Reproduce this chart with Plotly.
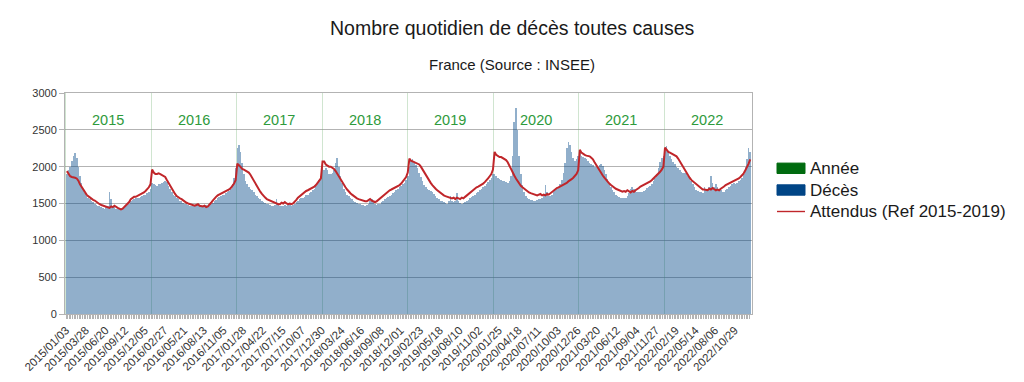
import pandas as pd
import plotly.graph_objects as go

# ---------------- data (weekly values) ----------------
start_date = "2015-01-03"
years = ["2015", "2016", "2017", "2018", "2019", "2020", "2021", "2022"]

deces_2015 = [1900, 1950, 2000, 2080, 2150, 2180, 2120, 2000, 1880, 1780, 1700, 1640, 1600,
              1580, 1560, 1540, 1520, 1500, 1480, 1470, 1460, 1450, 1440, 1430, 1450, 1470,
              1650, 1560, 1470, 1450, 1430, 1430, 1420, 1430, 1440, 1440, 1460, 1480, 1500,
              1530, 1550, 1560, 1570, 1580, 1580, 1590, 1600, 1610, 1620, 1640, 1650, 1700]
deces_2016 = [1780, 1760, 1750, 1740, 1760, 1770, 1780, 1790, 1800, 1790, 1740, 1700, 1660,
              1620, 1600, 1580, 1560, 1540, 1530, 1510, 1500, 1490, 1480, 1470, 1460, 1460,
              1460, 1470, 1500, 1470, 1450, 1450, 1470, 1480, 1460, 1470, 1490, 1510, 1530,
              1550, 1570, 1590, 1600, 1610, 1620, 1640, 1650, 1670, 1700, 1760, 1850, 1980, 2250]
deces_2017 = [2300, 2200, 2050, 1900, 1800, 1760, 1720, 1700, 1680, 1650, 1620, 1600, 1580,
              1560, 1540, 1520, 1510, 1500, 1490, 1480, 1470, 1470, 1480, 1560, 1490, 1470,
              1460, 1470, 1480, 1470, 1480, 1490, 1470, 1480, 1500, 1520, 1540, 1560, 1570,
              1580, 1590, 1610, 1620, 1640, 1660, 1680, 1700, 1740, 1780, 1820, 1880, 2000]
deces_2018 = [1950, 1980, 1960, 1900, 1900, 1920, 1960, 2050, 2120, 2000, 1880, 1780, 1700,
              1660, 1620, 1600, 1580, 1560, 1540, 1520, 1510, 1500, 1490, 1480, 1480, 1470,
              1480, 1490, 1530, 1560, 1520, 1490, 1480, 1490, 1500, 1520, 1540, 1560, 1580,
              1590, 1600, 1620, 1640, 1660, 1680, 1700, 1720, 1740, 1760, 1780, 1820, 1880]
deces_2019 = [2000, 2080, 2100, 2050, 2020, 1980, 1920, 1860, 1800, 1750, 1720, 1700, 1680,
              1670, 1650, 1630, 1600, 1580, 1560, 1540, 1530, 1520, 1510, 1500, 1530, 1600,
              1540, 1520, 1530, 1640, 1530, 1510, 1500, 1510, 1520, 1530, 1550, 1570, 1590,
              1600, 1620, 1640, 1660, 1680, 1700, 1720, 1740, 1760, 1790, 1820, 1850, 1900]
deces_2020 = [1900, 1880, 1850, 1830, 1820, 1810, 1800, 1790, 1780, 1800, 1880, 2150, 2600,
              2800, 2500, 2150, 1900, 1750, 1650, 1600, 1570, 1560, 1550, 1550, 1540, 1540,
              1550, 1560, 1560, 1580, 1620, 1750, 1650, 1600, 1600, 1620, 1650, 1680, 1700,
              1720, 1760, 1820, 1920, 2050, 2250, 2330, 2300, 2200, 2120, 2080, 2100, 2150]
deces_2021 = [2200, 2150, 2130, 2120, 2100, 2080, 2050, 2030, 2020, 2000, 1990, 2000, 2020,
              2030, 2010, 1960, 1900, 1830, 1770, 1720, 1680, 1650, 1620, 1600, 1590, 1580,
              1580, 1570, 1580, 1600, 1640, 1700, 1720, 1700, 1680, 1660, 1650, 1650, 1660,
              1670, 1690, 1710, 1720, 1740, 1760, 1800, 1850, 1900, 1980, 2060, 2120, 2150]
deces_2022 = [2250, 2280, 2200, 2150, 2100, 2060, 2030, 2000, 1980, 1950, 1930, 1920, 1920,
              1900, 1880, 1850, 1800, 1760, 1720, 1690, 1670, 1660, 1650, 1640, 1720, 1680,
              1680, 1720, 1880, 1780, 1720, 1760, 1720, 1690, 1680, 1660, 1660, 1680, 1700,
              1720, 1740, 1760, 1780, 1760, 1780, 1800, 1820, 1850, 1900, 2000, 2100, 2250, 2200]

attendus_2015 = [1940, 1900, 1870, 1860, 1860, 1850, 1840, 1810, 1760, 1720, 1680, 1650, 1620,
                 1600, 1580, 1560, 1550, 1540, 1520, 1500, 1490, 1480, 1470, 1460, 1450, 1440,
                 1440, 1460, 1450, 1470, 1450, 1440, 1430, 1420, 1430, 1450, 1480, 1500, 1520,
                 1560, 1580, 1590, 1590, 1600, 1610, 1620, 1630, 1650, 1670, 1690, 1720, 1760]
attendus_2016 = [1960, 1920, 1900, 1900, 1910, 1900, 1890, 1880, 1860, 1820, 1780, 1730, 1690,
                 1660, 1630, 1600, 1580, 1570, 1560, 1540, 1520, 1510, 1500, 1490, 1480, 1480,
                 1470, 1480, 1490, 1470, 1460, 1460, 1470, 1450, 1460, 1480, 1510, 1540, 1570,
                 1590, 1610, 1620, 1630, 1640, 1650, 1660, 1670, 1690, 1710, 1740, 1770, 1820, 2040]
attendus_2017 = [2020, 1990, 1970, 1960, 1950, 1940, 1920, 1890, 1850, 1800, 1760, 1720, 1690,
                 1660, 1630, 1600, 1580, 1560, 1550, 1530, 1520, 1510, 1500, 1500, 1490, 1490,
                 1510, 1500, 1520, 1500, 1490, 1500, 1490, 1500, 1520, 1550, 1580, 1600, 1620,
                 1640, 1660, 1670, 1680, 1690, 1700, 1710, 1730, 1750, 1780, 1800, 1840, 2070]
attendus_2018 = [2070, 2030, 2010, 2000, 2000, 1990, 1970, 1940, 1900, 1860, 1820, 1780, 1750,
                 1720, 1690, 1660, 1640, 1620, 1600, 1580, 1570, 1560, 1550, 1540, 1540, 1530,
                 1530, 1540, 1560, 1540, 1530, 1520, 1530, 1550, 1570, 1590, 1610, 1630, 1640,
                 1660, 1680, 1690, 1700, 1710, 1720, 1730, 1750, 1770, 1800, 1830, 1860, 1920]
attendus_2019 = [2110, 2080, 2070, 2060, 2060, 2050, 2030, 2000, 1960, 1920, 1880, 1840, 1810,
                 1780, 1750, 1720, 1700, 1680, 1660, 1640, 1620, 1610, 1600, 1590, 1580, 1570,
                 1570, 1580, 1560, 1580, 1570, 1560, 1580, 1570, 1590, 1610, 1630, 1650, 1670,
                 1690, 1710, 1720, 1730, 1740, 1760, 1770, 1790, 1810, 1840, 1870, 1900, 1960]
attendus_2020 = [2200, 2160, 2140, 2130, 2130, 2120, 2110, 2090, 2060, 2010, 1960, 1920, 1880,
                 1840, 1800, 1770, 1740, 1720, 1700, 1680, 1660, 1650, 1640, 1630, 1620, 1620,
                 1610, 1620, 1630, 1610, 1620, 1610, 1630, 1620, 1640, 1660, 1680, 1700, 1710,
                 1720, 1730, 1740, 1750, 1760, 1780, 1800, 1810, 1830, 1850, 1880, 1900, 1950]
attendus_2021 = [2230, 2190, 2170, 2160, 2150, 2150, 2140, 2120, 2100, 2060, 2020, 1980, 1950,
                 1910, 1880, 1850, 1820, 1790, 1770, 1750, 1730, 1710, 1700, 1690, 1680, 1670,
                 1660, 1670, 1660, 1680, 1660, 1650, 1670, 1660, 1680, 1690, 1710, 1730, 1740,
                 1750, 1760, 1770, 1790, 1800, 1820, 1840, 1860, 1880, 1900, 1930, 1960, 2000]
attendus_2022 = [2260, 2220, 2200, 2190, 2180, 2170, 2160, 2140, 2110, 2070, 2030, 1990, 1950,
                 1910, 1880, 1850, 1820, 1800, 1780, 1760, 1740, 1720, 1700, 1690, 1690, 1690,
                 1680, 1700, 1690, 1710, 1690, 1680, 1690, 1680, 1700, 1710, 1730, 1750, 1760,
                 1770, 1780, 1790, 1800, 1810, 1830, 1840, 1860, 1880, 1910, 1950, 1990, 2040, 2100]

deces = (deces_2015 + deces_2016 + deces_2017 + deces_2018 + deces_2019 +
         deces_2020 + deces_2021 + deces_2022)
attendus = (attendus_2015 + attendus_2016 + attendus_2017 + attendus_2018 + attendus_2019 +
            attendus_2020 + attendus_2021 + attendus_2022)
annee_values = [3000] * len(years)

legend_names = ["Année", "Décès", "Attendus (Ref 2015-2019)"]
legend_colors = ["#006b0f", "#004586", "#c0262a"]

# categories (weeks) and tick labels
week_start = pd.date_range(start_date, periods=len(deces), freq="7D")
week_mid = week_start + pd.Timedelta(hours=84)
tick_dates = list(week_start[::12])
tick_labels = [d.strftime("%Y/%m/%d") for d in tick_dates]
year_starts = [f"{y}-01-01" for y in years]
year_mids = [f"{y}-07-02" for y in years]

DAY = 86400000
font = "Liberation Sans, Arial, sans-serif"

fig = go.Figure()

# Année (year boundaries)
fig.add_trace(go.Bar(x=year_starts, y=annee_values, width=[4 * DAY] * len(years),
                     marker=dict(color="rgba(120,180,120,0.35)", line=dict(width=0)),
                     showlegend=False, hoverinfo="skip", name=legend_names[0]))
# Décès
fig.add_trace(go.Bar(x=list(week_start), y=deces, width=[7 * DAY] * len(deces), offset=0,
                     marker=dict(color="rgba(0,69,134,0.43)", line=dict(width=0)),
                     showlegend=False, name=legend_names[1]))
# Attendus
fig.add_trace(go.Scatter(x=list(week_mid), y=attendus, mode="lines",
                         line=dict(color=legend_colors[2], width=2), showlegend=False,
                         name=legend_names[2]))

annotations = [
    dict(text="Nombre quotidien de décès toutes causes", xref="paper", yref="paper",
         x=0.6507, y=1.296, showarrow=False, font=dict(size=19.5, color="#1a1a1a", family=font),
         xanchor="center", yanchor="middle"),
    dict(text="France (Source : INSEE)", xref="paper", yref="paper",
         x=0.6507, y=1.127, showarrow=False, font=dict(size=15, color="#1a1a1a", family=font),
         xanchor="center", yanchor="middle"),
]
for y, xm in zip(years, year_mids):
    annotations.append(dict(text=y, x=xm, y=2630, xref="x", yref="y", showarrow=False,
                            font=dict(size=14.5, color="#2e9a3c", family=font),
                            xanchor="center", yanchor="middle"))

# manual legend (paper coordinates)
def px_x(x):
    return (x - 65) / 687.0

def px_y(y):
    return (314 - y) / 221.0

legend_rows = [168.3, 190.0, 211.5]
shapes = []
for i, (name, col, yc) in enumerate(zip(legend_names, legend_colors, legend_rows)):
    if i < 2:
        shapes.append(dict(type="rect", xref="paper", yref="paper",
                           x0=px_x(777), x1=px_x(805), y0=px_y(yc + 5.2), y1=px_y(yc - 5.2),
                           fillcolor=col, line=dict(color=col, width=1)))
    else:
        shapes.append(dict(type="line", xref="paper", yref="paper",
                           x0=px_x(777), x1=px_x(805), y0=px_y(yc), y1=px_y(yc),
                           line=dict(color=col, width=1.4)))
    annotations.append(dict(text=name, xref="paper", yref="paper", x=px_x(808), y=px_y(yc),
                            xanchor="left", yanchor="middle", showarrow=False,
                            font=dict(size=17, color="#1a1a1a", family=font)))

fig.update_layout(
    width=1024, height=382,
    margin=dict(l=65, r=272, t=93, b=68),
    paper_bgcolor="white", plot_bgcolor="white",
    barmode="overlay", bargap=0, showlegend=False,
    font=dict(family=font, color="#333333"),
    annotations=annotations, shapes=shapes,
    xaxis=dict(type="date", range=["2014-12-29 10:00", "2023-01-11"],
               tickmode="array", tickvals=tick_dates, ticktext=tick_labels,
               tickangle=-45, tickfont=dict(size=11.5, color="#333333"),
               ticks="outside", ticklen=4, tickcolor="#b3b3b3",
               minor=dict(tickmode="array", tickvals=list(week_start), ticks="outside",
                          ticklen=4, tickcolor="#b3b3b3", showgrid=False),
               showgrid=False, showline=True, mirror=True, linecolor="#b3b3b3",
               zeroline=False, automargin=False),
    yaxis=dict(range=[0, 3000], dtick=500, tickfont=dict(size=11, color="#333333"),
               showgrid=True, gridcolor="#b3b3b3", gridwidth=1,
               ticks="outside", ticklen=5, tickcolor="#b3b3b3",
               showline=True, mirror=True, linecolor="#b3b3b3", zeroline=False,
               automargin=False),
)

fig.write_html("out.html", config={"displayModeBar": False},
               post_script="document.body.style.margin='0px';")
